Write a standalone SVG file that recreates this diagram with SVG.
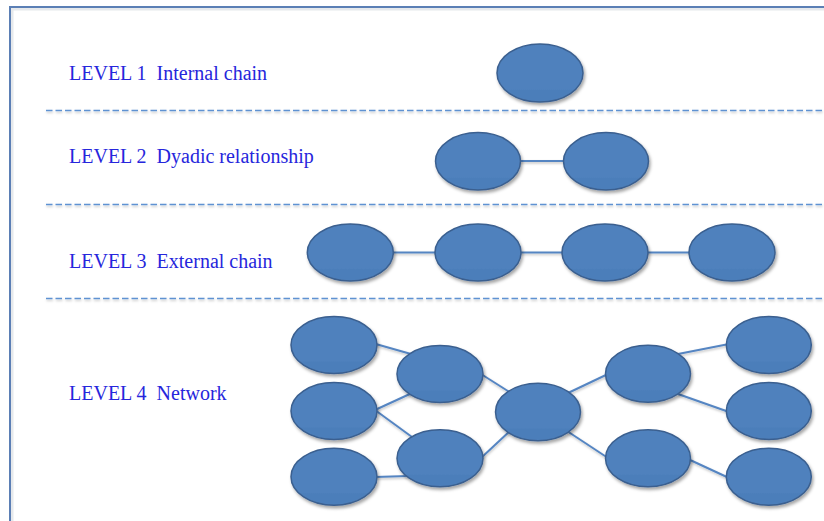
<svg xmlns="http://www.w3.org/2000/svg" width="824" height="521" viewBox="0 0 824 521">
  <defs>
    <filter id="shadow" x="-20%" y="-20%" width="150%" height="160%">
      <feDropShadow dx="1.5" dy="2.5" stdDeviation="1.6" flood-color="#000" flood-opacity="0.35"/>
    </filter>
    <filter id="lshadow" filterUnits="userSpaceOnUse" x="0" y="0" width="824" height="521">
      <feDropShadow dx="0.5" dy="1.5" stdDeviation="1" flood-color="#000" flood-opacity="0.25"/>
    </filter>
    <linearGradient id="ell" x1="0" y1="0" x2="0" y2="1">
      <stop offset="0" stop-color="#4f81bd"/>
      <stop offset="0.78" stop-color="#4f81bd"/>
      <stop offset="0.8" stop-color="#4c7eba"/>
      <stop offset="1" stop-color="#4c7eba"/>
    </linearGradient>
  </defs>
  <style>
    .node { fill: url(#ell); stroke: #3a5f8f; stroke-width: 1.5; filter: url(#shadow); }
    .edge { stroke: #5585c2; stroke-width: 2; fill: none; }
    .sep { stroke: #5f92d2; stroke-width: 1.6; stroke-dasharray: 6.5 3; fill: none; }
    .lbl { font-family: "Liberation Serif", "DejaVu Serif", serif; font-size: 20px; fill: #2626dc; white-space: pre; }
  </style>

  <rect width="824" height="521" fill="#ffffff"/>

  <!-- frame -->
  <g id="frame">
    <rect x="12" y="9" width="830" height="530" fill="none" stroke="#e6e9ec" stroke-width="3"/>
    <rect x="10" y="7" width="830" height="530" fill="none" stroke="#5b7fb5" stroke-width="2"/>
  </g>

  <!-- separators -->
  <g id="separators" filter="url(#lshadow)">
    <line class="sep" x1="46" y1="110.5" x2="824" y2="110.5"/>
    <line class="sep" x1="46" y1="204.5" x2="824" y2="204.5"/>
    <line class="sep" x1="46" y1="298.5" x2="824" y2="298.5"/>
  </g>

  <!-- labels -->
  <g id="labels">
    <text class="lbl" x="69" y="80" xml:space="preserve">LEVEL 1  Internal chain</text>
    <text class="lbl" x="69" y="163" xml:space="preserve">LEVEL 2  Dyadic relationship</text>
    <text class="lbl" x="69" y="268" xml:space="preserve">LEVEL 3  External chain</text>
    <text class="lbl" x="69" y="400" xml:space="preserve">LEVEL 4  Network</text>
  </g>

  <!-- connectors -->
  <g id="connectors" filter="url(#lshadow)">
    <line class="edge" x1="518" y1="161" x2="566" y2="161"/>
    <line class="edge" x1="391" y1="252.5" x2="437" y2="252.5"/>
    <line class="edge" x1="518" y1="252.5" x2="564" y2="252.5"/>
    <line class="edge" x1="646" y1="252.5" x2="691" y2="252.5"/>
    <line class="edge" x1="374" y1="343.5" x2="411" y2="354"/>
    <line class="edge" x1="375" y1="410" x2="412" y2="393"/>
    <line class="edge" x1="375" y1="410" x2="412" y2="437"/>
    <line class="edge" x1="375" y1="477" x2="408" y2="476"/>
    <line class="edge" x1="481" y1="374" x2="511" y2="393"/>
    <line class="edge" x1="481" y1="458" x2="511" y2="430"/>
    <line class="edge" x1="568" y1="393" x2="608" y2="374"/>
    <line class="edge" x1="567" y1="431" x2="608" y2="458"/>
    <line class="edge" x1="678" y1="354" x2="729" y2="344"/>
    <line class="edge" x1="678" y1="394" x2="729" y2="412"/>
    <line class="edge" x1="688" y1="459" x2="729" y2="478"/>
  </g>

  <!-- level 1 -->
  <g id="l1-n1"><ellipse class="node" cx="540" cy="73" rx="43" ry="29"/></g>

  <!-- level 2 -->
  <g id="l2-n1"><ellipse class="node" cx="478" cy="161.3" rx="42.5" ry="28.7"/></g>
  <g id="l2-n2"><ellipse class="node" cx="606" cy="161.3" rx="42.5" ry="28.7"/></g>

  <!-- level 3 -->
  <g id="l3-n1"><ellipse class="node" cx="350.3" cy="252.5" rx="43" ry="28.5"/></g>
  <g id="l3-n2"><ellipse class="node" cx="478" cy="252.5" rx="43" ry="28.5"/></g>
  <g id="l3-n3"><ellipse class="node" cx="605" cy="252.5" rx="43" ry="28.5"/></g>
  <g id="l3-n4"><ellipse class="node" cx="732" cy="252.5" rx="43" ry="28.5"/></g>

  <!-- level 4 -->
  <g id="l4-a"><ellipse class="node" cx="334" cy="345" rx="43" ry="28.5"/></g>
  <g id="l4-b"><ellipse class="node" cx="334" cy="411" rx="43" ry="28.5"/></g>
  <g id="l4-c"><ellipse class="node" cx="334" cy="476.7" rx="43" ry="28.5"/></g>
  <g id="l4-d"><ellipse class="node" cx="440" cy="374" rx="43" ry="28.5"/></g>
  <g id="l4-e"><ellipse class="node" cx="440" cy="458.3" rx="43" ry="28.5"/></g>
  <g id="l4-f"><ellipse class="node" cx="538" cy="412" rx="42.5" ry="28.7"/></g>
  <g id="l4-g"><ellipse class="node" cx="648" cy="373.7" rx="42.5" ry="28.5"/></g>
  <g id="l4-h"><ellipse class="node" cx="648" cy="458.3" rx="42.5" ry="28.5"/></g>
  <g id="l4-i"><ellipse class="node" cx="768.8" cy="345" rx="42.5" ry="28.5"/></g>
  <g id="l4-j"><ellipse class="node" cx="768.8" cy="411" rx="42.5" ry="28.5"/></g>
  <g id="l4-k"><ellipse class="node" cx="768.8" cy="476.7" rx="42.5" ry="28.5"/></g>
</svg>
